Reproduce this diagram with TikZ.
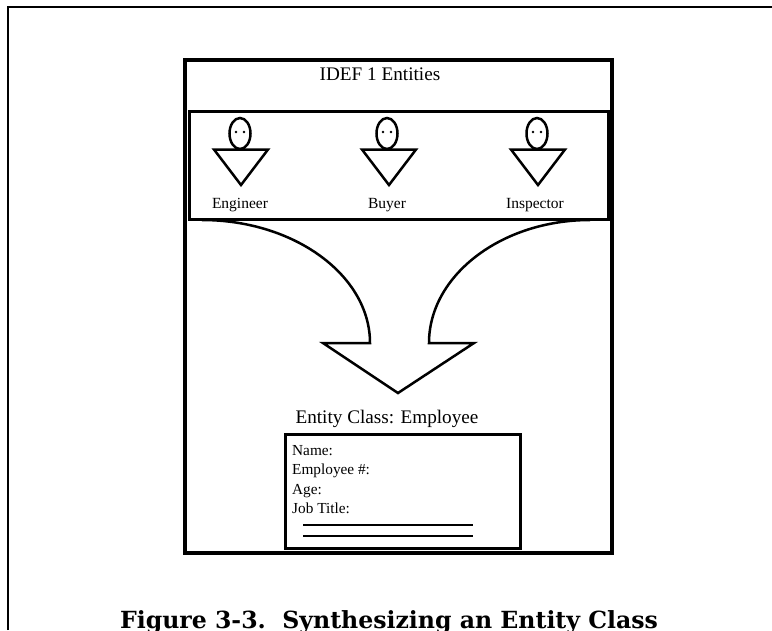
\documentclass[tikz,border=0pt]{standalone}
\usepackage{fontspec}
\usetikzlibrary{shapes.geometric}
\setmainfont{Liberation Serif}
\newfontfamily\capfont{DejaVu Serif}
\begin{document}
\begin{tikzpicture}[x=1pt,y=-1pt,
  frameline/.style={line width=2.4pt},
  mainbox/.style={draw,line width=4pt,anchor=north west,inner sep=0pt},
  entbox/.style={draw,line width=3pt,anchor=north west,inner sep=0pt},
  figline/.style={line width=2.5pt},
  headshape/.style={draw,ellipse,line width=2.5pt,minimum width=21pt,minimum height=31pt,inner sep=0pt},
  eye/.style={fill,circle,inner sep=0pt,minimum size=2.6pt},
  lbl/.style={font=\fontsize{15.5}{18}\selectfont,inner sep=0pt},
  big/.style={font=\fontsize{19.2}{22}\selectfont,inner sep=0pt},
  fld/.style={font=\fontsize{15.3}{18}\selectfont,inner sep=0pt,anchor=base west},
  arrowline/.style={line width=2.5pt,line join=miter},
  blank/.style={line width=1.6pt}]
\useasboundingbox (0,0) rectangle (772,630);
% outer frame
\coordinate (fl) at (8,630);
\coordinate (ftl) at (8,7);
\coordinate (fr) at (772,7);
\draw[frameline] (fl) -- (ftl) -- (fr);
% main box
\node[mainbox,minimum width=427pt,minimum height=493pt] (main) at (183,58) {};
\node[big,anchor=base] (title) at (380,80) {IDEF 1 Entities};
% arrow
\draw[arrowline] (202,220) .. controls (294.7,220) and (370,275.7) .. (370,343)
  -- (323,343) -- (398,393) -- (474,343) -- (429,343)
  .. controls (429,275.7) and (501.1,220) .. (590,220);
% entities box
\node[entbox,minimum width=419pt,minimum height=108pt] (ents) at (188,110) {};
% figures
\foreach \n/\cx/\hx in {eng/241/240,buy/389/387,ins/538/537}{
  \node[headshape] (\n head) at (\hx,133.5) {};
  \node[eye] (\n eyeL) at (\hx-4,132) {};
  \node[eye] (\n eyeR) at (\hx+4,132) {};
  \coordinate (\n tl) at (\cx-27,149.5);
  \coordinate (\n tr) at (\cx+27,149.5);
  \coordinate (\n ap) at (\cx,185);
  \draw[figline,line join=miter] (\n tl) -- (\n tr) -- (\n ap) -- cycle;
}
\node[lbl,anchor=base] (englbl) at (240,208) {Engineer};
\node[lbl,anchor=base] (buylbl) at (387,208) {Buyer};
\node[lbl,anchor=base] (inslbl) at (535,208) {Inspector};
% entity class
\node[big,anchor=base] (cls) at (387,423) {Entity Class: Employee};
\node[entbox,line width=3.2pt,minimum width=235pt,minimum height=114pt] (emp) at (284,433) {};
\node[fld] (f1) at (292,455) {Name:};
\node[fld] (f2) at (292,474.5) {Employee \#:};
\node[fld] (f3) at (292,494) {Age:};
\node[fld] (f4) at (292,513.5) {Job Title:};
\coordinate (b1a) at (303,525); \coordinate (b1b) at (473,525);
\coordinate (b2a) at (303,536); \coordinate (b2b) at (473,536);
\draw[blank] (b1a) -- (b1b);
\draw[blank] (b2a) -- (b2b);
% caption
\node[font=\capfont\bfseries\fontsize{23.6}{28}\selectfont,anchor=base,inner sep=0pt] (cap) at (389,628) {Figure 3-3.\ \ Synthesizing an Entity Class};
\end{tikzpicture}
\end{document}
